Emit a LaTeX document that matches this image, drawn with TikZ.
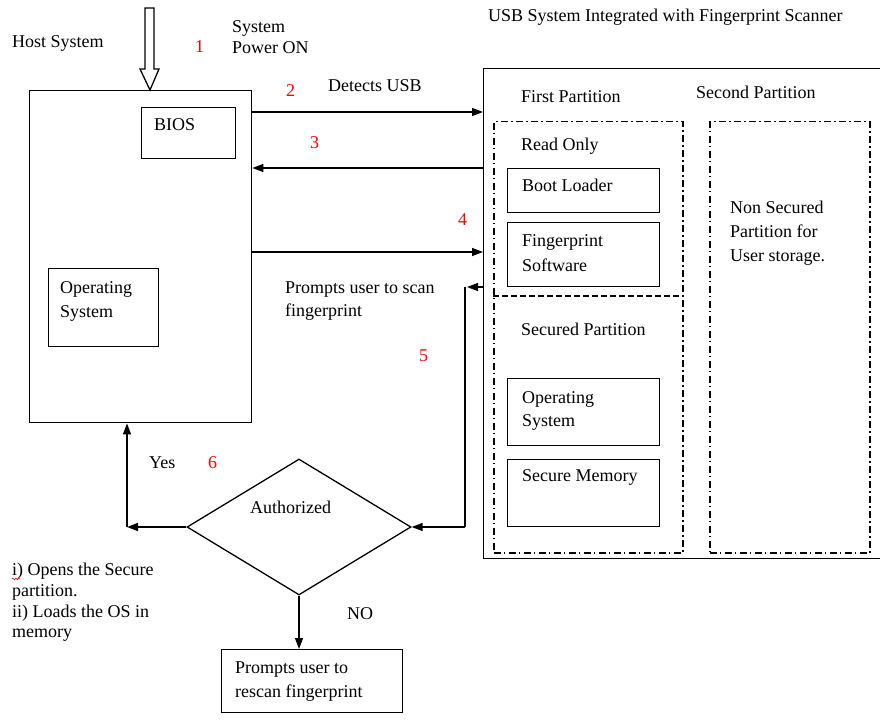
\documentclass[tikz,border=0pt]{standalone}
\usepackage{fontspec}
\setmainfont{Liberation Serif}
\usetikzlibrary{shapes.geometric,arrows.meta,decorations.pathmorphing}
\begin{document}
\begin{tikzpicture}[x=1pt,y=-1pt,
  every node/.style={font=\fontsize{18}{22}\selectfont},
  txt/.style={anchor=base west,inner sep=0pt},
  num/.style={txt,text=red},
  box/.style={draw,line width=1.4pt,anchor=north west,inner sep=0pt},
  dbox/.style={draw,line width=1.5pt,dash pattern=on 7pt off 3pt on 1.5pt off 3.5pt,anchor=north west,inner sep=0pt},
  arr/.style={line width=1.4pt,-{Triangle[length=11pt,width=8pt]}},
  ln/.style={line width=1.4pt}]
\useasboundingbox (0,0) rectangle (880,722);

% hollow power-on arrow
\draw[line width=1.3pt] (145,8) -- (154,8) -- (154,69) -- (159,69) -- (150,90) -- (140,69) -- (145,69) -- cycle;

% Host system
\node[txt] (hostlbl) at (12,48) {Host System};
\node[num] (n1) at (195,53) {1};
\node[txt] (pw1) at (232,33) {System};
\node[txt] (pw2) at (232,54) {Power ON};
\node[box,minimum width=222pt,minimum height=332pt] (host) at (29,90) {};
\node[box,minimum width=94pt,minimum height=51pt] (bios) at (141,107) {};
\node[txt] (biost) at (154,131) {BIOS};
\node[box,minimum width=110pt,minimum height=78pt] (hos) at (48,268) {};
\node[txt] (host1) at (60,293) {Operating};
\node[txt] (host2) at (60,317) {System};

% USB system
\node[txt] (usbt) at (488,22) {USB System Integrated with Fingerprint Scanner};
\node[box,minimum width=402pt,minimum height=490pt] (usb) at (483,68) {};
\node[txt] (fpt) at (521,103) {First Partition};
\node[txt] (spt) at (696,99) {Second Partition};
\node[dbox,minimum width=189pt,minimum height=431pt] (fp) at (493,121) {};
\node[dbox,minimum width=160pt,minimum height=431pt] (sp) at (709,121) {};
\draw[line width=1.4pt,dash pattern=on 6pt off 3pt] (fp.west |- 0,296) -- (fp.east |- 0,296);
\node[txt] (ro) at (521,151) {Read Only};
\node[box,minimum width=152pt,minimum height=44pt] (bl) at (507,168) {};
\node[txt] (blt) at (522,191) {Boot Loader};
\node[box,minimum width=152pt,minimum height=64pt] (fs) at (507,222) {};
\node[txt] (fs1) at (522,246) {Fingerprint};
\node[txt] (fs2) at (522,271) {Software};
\node[txt] (sec) at (521,335) {Secured Partition};
\node[box,minimum width=152pt,minimum height=67pt] (uos) at (507,378) {};
\node[txt] (uos1) at (522,403) {Operating};
\node[txt] (uos2) at (522,426) {System};
\node[box,minimum width=152pt,minimum height=67pt] (sm) at (507,459) {};
\node[txt] (smt) at (522,481) {Secure Memory};
\node[txt] (ns1) at (730,213) {Non Secured};
\node[txt] (ns2) at (730,237) {Partition for};
\node[txt] (ns3) at (730,261) {User storage.};

% messages
\coordinate (y2) at (0,112);
\coordinate (y3) at (0,168);
\coordinate (y4) at (0,252);
\coordinate (y5) at (0,287);
\node[num] (n2) at (286,97) {2};
\node[txt] (det) at (328,92) {Detects USB};
\draw[arr] (host.east |- y2) -- (usb.west |- y2);
\node[num] (n3) at (310,149) {3};
\draw[arr] (usb.west |- y3) -- (host.east |- y3);
\node[num] (n4) at (458,225) {4};
\draw[arr] (host.east |- y4) -- (usb.west |- y4);
\coordinate (p5) at (467,287);
\draw[arr] (usb.west |- y5) -- (p5);
\node[txt] (ps1) at (285,293) {Prompts user to scan};
\node[txt] (ps2) at (285,316) {fingerprint};
\node[num] (n5) at (419,361) {5};

% decision
\node[draw,diamond,line width=1.3pt,minimum width=224pt,minimum height=136pt,inner sep=0pt] (dia) at (299,527) {};
\node[txt] (auth) at (250,513) {Authorized};
\coordinate (v5) at (465,527);
\draw[ln] (465,287) -- (v5);
\draw[arr] (v5) -- (dia.east);
\coordinate (yc) at (127,527);
\draw[arr] (dia.west) -- (yc);
\draw[arr] (yc) -- (host.south -| yc);
\node[txt] (yes) at (149,468) {Yes};
\node[num] (n6) at (208,468) {6};
\node[box,minimum width=181pt,minimum height=63pt] (resc) at (221,649) {};
\draw[arr] (dia.south) -- (resc.north -| dia.south);
\node[txt] (no) at (347,619) {NO};
\node[txt] (rs1) at (235,673) {Prompts user to};
\node[txt] (rs2) at (235,697) {rescan fingerprint};

% outcome text
\node[txt] (o1) at (12,575) {i) Opens the Secure};
\node[txt] (o2) at (12,596) {partition.};
\node[txt] (o3) at (12,617) {ii) Loads the OS in};
\node[txt] (o4) at (12,637) {memory};
\draw[red,line width=0.6pt,decorate,decoration={snake,amplitude=0.8pt,segment length=3pt}] (12,579) -- (20,579);
\end{tikzpicture}
\end{document}
